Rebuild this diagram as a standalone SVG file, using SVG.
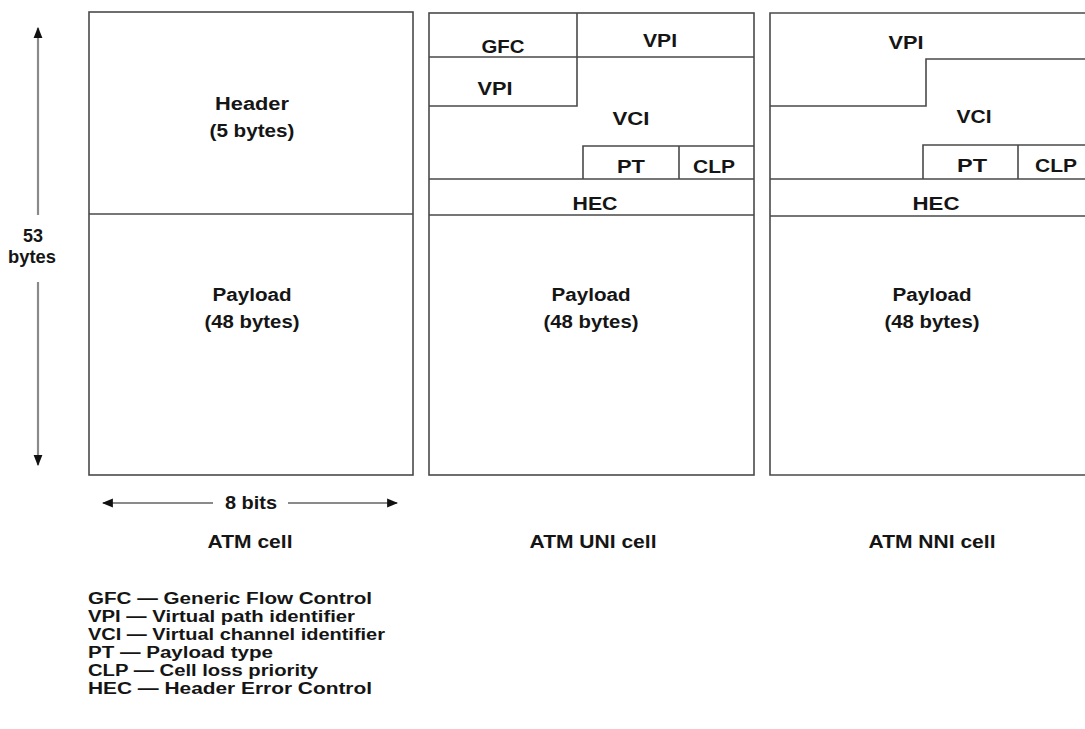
<svg xmlns="http://www.w3.org/2000/svg" width="1085" height="729" viewBox="0 0 1085 729">
<style>
.ln{stroke:#4a4a4a;stroke-width:1.6;fill:none}
.ar{stroke:#8a8a8a;stroke-width:2.2;fill:none}
text{font-family:"Liberation Sans",Arial,sans-serif;font-weight:bold;font-size:18px;fill:#151515;text-anchor:middle}
.lg{text-anchor:start;font-size:16px}
</style>
<defs>
<marker id="ah" viewBox="0 0 10 10" refX="9" refY="5" markerWidth="11" markerHeight="11" markerUnits="userSpaceOnUse" orient="auto">
<path d="M0,1 L10,5 L0,9 Z" fill="#111"/>
</marker>
</defs>
<rect width="1085" height="729" fill="#fff"/>

<g id="atm-cell">
<rect class="ln" x="89" y="12" width="324" height="463"/>
<line class="ln" x1="89" y1="214" x2="413" y2="214"/>
<text x="252" y="110" textLength="74" lengthAdjust="spacingAndGlyphs">Header</text>
<text x="252" y="137" textLength="85" lengthAdjust="spacingAndGlyphs">(5 bytes)</text>
<text x="252" y="301" textLength="79" lengthAdjust="spacingAndGlyphs">Payload</text>
<text x="252" y="328" textLength="95" lengthAdjust="spacingAndGlyphs">(48 bytes)</text>
<text x="250" y="548" textLength="85" lengthAdjust="spacingAndGlyphs">ATM cell</text>
</g>

<g id="atm-uni-cell">
<rect class="ln" x="429" y="13" width="325" height="462"/>
<path class="ln" d="M429,57 H754 M577,13 V106 H429 M583,179 V146 H754 M679,146 V179 M429,179 H754 M429,215 H754"/>
<text x="503" y="53" textLength="43" lengthAdjust="spacingAndGlyphs">GFC</text>
<text x="660" y="47" textLength="34" lengthAdjust="spacingAndGlyphs">VPI</text>
<text x="495" y="95" textLength="35" lengthAdjust="spacingAndGlyphs">VPI</text>
<text x="631" y="125" textLength="37" lengthAdjust="spacingAndGlyphs">VCI</text>
<text x="631" y="173" textLength="28" lengthAdjust="spacingAndGlyphs">PT</text>
<text x="714" y="173" textLength="42" lengthAdjust="spacingAndGlyphs">CLP</text>
<text x="595" y="210" textLength="45" lengthAdjust="spacingAndGlyphs">HEC</text>
<text x="591" y="301" textLength="79" lengthAdjust="spacingAndGlyphs">Payload</text>
<text x="591" y="328" textLength="95" lengthAdjust="spacingAndGlyphs">(48 bytes)</text>
<text x="593" y="548" textLength="127" lengthAdjust="spacingAndGlyphs">ATM UNI cell</text>
</g>

<g id="atm-nni-cell">
<path class="ln" d="M1090,13 H770 V475 H1090"/>
<path class="ln" d="M1090,59 H926 V106 H770 M923,179 V145 H1090 M1018,145 V179 M770,179 H1090 M770,216 H1090"/>
<text x="906" y="49" textLength="35" lengthAdjust="spacingAndGlyphs">VPI</text>
<text x="974" y="123" textLength="35" lengthAdjust="spacingAndGlyphs">VCI</text>
<text x="972" y="172" textLength="30" lengthAdjust="spacingAndGlyphs">PT</text>
<text x="1056" y="172" textLength="42" lengthAdjust="spacingAndGlyphs">CLP</text>
<text x="936" y="210" textLength="47" lengthAdjust="spacingAndGlyphs">HEC</text>
<text x="932" y="301" textLength="79" lengthAdjust="spacingAndGlyphs">Payload</text>
<text x="932" y="328" textLength="95" lengthAdjust="spacingAndGlyphs">(48 bytes)</text>
<text x="932" y="548" textLength="127" lengthAdjust="spacingAndGlyphs">ATM NNI cell</text>
</g>

<g id="connectors">
<line class="ar" x1="38" y1="215" x2="38" y2="28" marker-end="url(#ah)"/>
<line class="ar" x1="38" y1="282" x2="38" y2="465" marker-end="url(#ah)"/>
<line class="ar" x1="213" y1="503" x2="103" y2="503" marker-end="url(#ah)"/>
<line class="ar" x1="288" y1="503" x2="397" y2="503" marker-end="url(#ah)"/>
</g>

<g id="dimension-labels">
<text x="33" y="242" textLength="20" lengthAdjust="spacingAndGlyphs">53</text>
<text x="32" y="263" textLength="48" lengthAdjust="spacingAndGlyphs">bytes</text>
<text x="251" y="509" textLength="52" lengthAdjust="spacingAndGlyphs">8 bits</text>
</g>

<g id="legend">
<text class="lg" x="88" y="604" textLength="284" lengthAdjust="spacingAndGlyphs">GFC — Generic Flow Control</text>
<text class="lg" x="88" y="622" textLength="267" lengthAdjust="spacingAndGlyphs">VPI — Virtual path identifier</text>
<text class="lg" x="88" y="640" textLength="297" lengthAdjust="spacingAndGlyphs">VCI — Virtual channel identifier</text>
<text class="lg" x="88" y="658" textLength="185" lengthAdjust="spacingAndGlyphs">PT — Payload type</text>
<text class="lg" x="88" y="676" textLength="230" lengthAdjust="spacingAndGlyphs">CLP — Cell loss priority</text>
<text class="lg" x="88" y="694" textLength="284" lengthAdjust="spacingAndGlyphs">HEC — Header Error Control</text>
</g>
</svg>
